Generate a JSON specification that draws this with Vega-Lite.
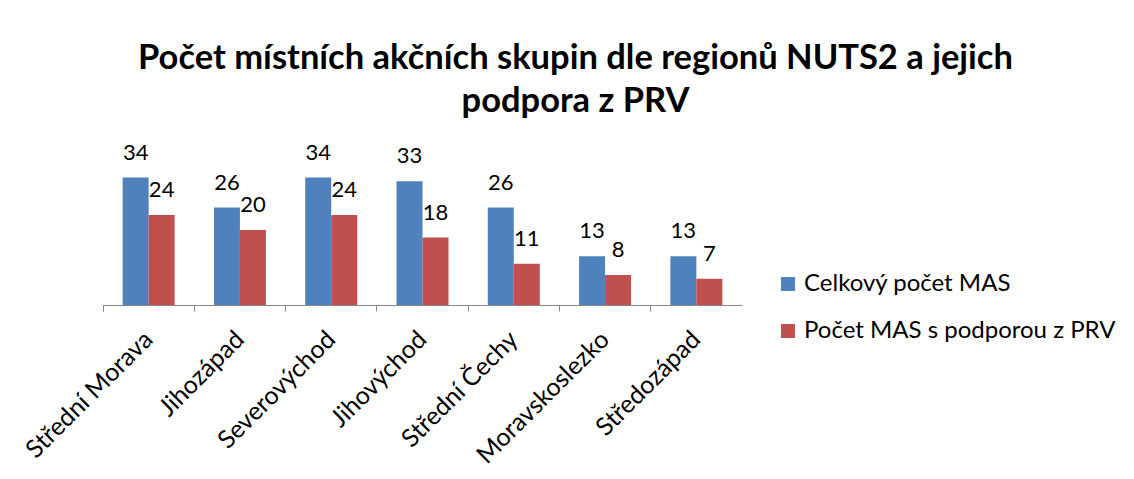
{
  "$schema": "https://vega.github.io/schema/vega-lite/v6.json",
  "autosize": "none",
  "width": 639,
  "height": 150,
  "padding": {"left": 103, "top": 155, "right": 392, "bottom": 174},
  "background": "white",
  "title": {
    "text": ["Počet místních akčních skupin dle regionů NUTS2 a jejich", "podpora z PRV"],
    "font": "Lato",
    "fontSize": 34.5,
    "fontWeight": "bold",
    "color": "black",
    "anchor": "middle",
    "dx": 153,
    "lineHeight": 43,
    "offset": 22
  },
  "data": {
    "values": [
      {"region": "Střední Morava", "series": "Celkový počet MAS", "value": 34},
      {"region": "Střední Morava", "series": "Počet MAS s podporou z PRV", "value": 24},
      {"region": "Jihozápad", "series": "Celkový počet MAS", "value": 26},
      {"region": "Jihozápad", "series": "Počet MAS s podporou z PRV", "value": 20},
      {"region": "Severovýchod", "series": "Celkový počet MAS", "value": 34},
      {"region": "Severovýchod", "series": "Počet MAS s podporou z PRV", "value": 24},
      {"region": "Jihovýchod", "series": "Celkový počet MAS", "value": 33},
      {"region": "Jihovýchod", "series": "Počet MAS s podporou z PRV", "value": 18},
      {"region": "Střední Čechy", "series": "Celkový počet MAS", "value": 26},
      {"region": "Střední Čechy", "series": "Počet MAS s podporou z PRV", "value": 11},
      {"region": "Moravskoslezko", "series": "Celkový počet MAS", "value": 13},
      {"region": "Moravskoslezko", "series": "Počet MAS s podporou z PRV", "value": 8},
      {"region": "Středozápad", "series": "Celkový počet MAS", "value": 13},
      {"region": "Středozápad", "series": "Počet MAS s podporou z PRV", "value": 7}
    ]
  },
  "encoding": {
    "x": {
      "field": "region",
      "type": "nominal",
      "sort": null,
      "scale": {"paddingInner": 0, "paddingOuter": 0},
      "axis": {
        "title": null,
        "labelAngle": -45,
        "labelAlign": "right",
        "labelBaseline": "middle",
        "labelFont": "Lato",
        "labelFontSize": 25,
        "labelColor": "black",
        "labelPadding": 24,
        "bandPosition": 0,
        "tickExtra": true,
        "tickSize": 6,
        "tickColor": "#888888",
        "domainColor": "#888888",
        "domainWidth": 1,
        "grid": false
      }
    },
    "xOffset": {"field": "series", "type": "nominal", "scale": {"paddingInner": 0, "paddingOuter": 0.756}},
    "y": {
      "field": "value",
      "type": "quantitative",
      "scale": {"domain": [0, 40]},
      "axis": null
    }
  },
  "layer": [
    {
      "mark": {"type": "bar"},
      "encoding": {
        "color": {
          "field": "series",
          "type": "nominal",
          "scale": {"domain": ["Celkový počet MAS", "Počet MAS s podporou z PRV"], "range": ["#4F81BD", "#C0504D"]},
          "legend": {
            "title": null,
            "orient": "none",
            "legendX": 673,
            "legendY": 117,
            "symbolType": "square",
            "symbolSize": 196,
            "symbolStrokeWidth": 0,
            "labelFont": "Lato",
            "labelFontSize": 24,
            "labelColor": "black",
            "labelLimit": 400,
            "rowPadding": 23
          }
        }
      }
    },
    {
      "mark": {"type": "text", "font": "Lato", "fontSize": 22, "color": "black", "baseline": "alphabetic", "dy": -18},
      "encoding": {"text": {"field": "value", "type": "quantitative"}}
    }
  ],
  "config": {"view": {"stroke": null}}
}
